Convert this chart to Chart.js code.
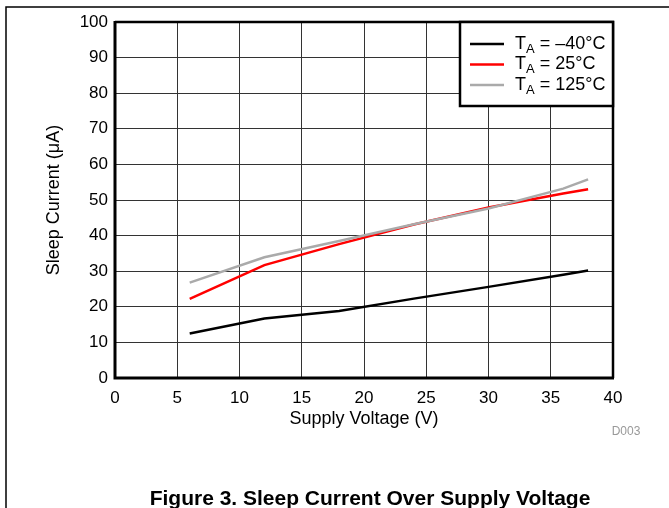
<!DOCTYPE html>
<html>
<head>
<meta charset="utf-8">
<script src="https://cdn.jsdelivr.net/npm/chart.js@4.4.1/dist/chart.umd.min.js"></script>
<style>
  body { margin: 0; background: #fff; }
  #wrap { position: relative; width: 669px; height: 508px; }
</style>
</head>
<body>
<div id="wrap"><canvas id="sleepChart"></canvas></div>
<script>
// values
const voltage = [6, 12, 18, 24, 30, 36, 38];
const currentM40 = [12.5, 16.7, 18.8, 22.3, 25.6, 29.0, 30.2];
const current25 = [22.2, 31.7, 37.6, 43.1, 47.9, 51.8, 53.0];
const current125 = [26.8, 33.9, 38.5, 43.2, 47.6, 53.2, 55.8];

const legendTemps = ['\u201340\u00B0C', '25\u00B0C', '125\u00B0C'];
const lineColors = ['#000000', '#ff0000', '#aaaaaa'];

const FONT = '"Liberation Sans", Arial, sans-serif';

function points(ys) {
    return voltage.map((v, i) => ({ x: v, y: ys[i] }));
}

// frame, plot border, legend and caption
const decorations = {
    id: 'decorations',
    beforeDraw(chart) {
        const ctx = chart.ctx;
        ctx.save();
        ctx.fillStyle = '#fff';
        ctx.fillRect(0, 0, chart.width, chart.height);
        ctx.strokeStyle = '#000';
        ctx.lineWidth = 1.5;
        ctx.beginPath();
        ctx.moveTo(6, 508);
        ctx.lineTo(6, 7);
        ctx.lineTo(669, 7);
        ctx.stroke();
        ctx.restore();
    },
    afterDraw(chart) {
        const ctx = chart.ctx;
        const a = chart.chartArea;
        ctx.save();
        ctx.strokeStyle = '#000';
        ctx.lineWidth = 2.5;
        ctx.beginPath();
        ctx.moveTo(a.left, a.top);
        ctx.lineTo(a.right, a.top);
        ctx.lineTo(a.right, a.bottom);
        ctx.stroke();
        ctx.lineWidth = 3;
        ctx.beginPath();
        ctx.moveTo(a.left, a.top - 1);
        ctx.lineTo(a.left, a.bottom);
        ctx.lineTo(a.right + 1, a.bottom);
        ctx.stroke();

        // legend
        const lx = 460, ly = a.top, lw = a.right - 460, lh = 84;
        ctx.fillStyle = '#fff';
        ctx.fillRect(lx, ly, lw, lh);
        ctx.lineWidth = 2.5;
        ctx.strokeRect(lx, ly, lw, lh);
        legendTemps.forEach((t, i) => {
            const y = ly + 22 + i * 20.5;
            ctx.strokeStyle = lineColors[i];
            ctx.lineWidth = 2.5;
            ctx.beginPath();
            ctx.moveTo(470, y);
            ctx.lineTo(504, y);
            ctx.stroke();
            ctx.fillStyle = '#000';
            ctx.textBaseline = 'middle';
            ctx.textAlign = 'left';
            ctx.font = '18px ' + FONT;
            let x = 515;
            ctx.fillText('T', x, y);
            x += ctx.measureText('T').width;
            ctx.font = '13px ' + FONT;
            ctx.fillText('A', x, y + 5);
            x += ctx.measureText('A').width;
            ctx.font = '18px ' + FONT;
            ctx.fillText(' = ' + t, x, y);
        });

        ctx.textBaseline = 'alphabetic';
        ctx.fillStyle = '#999';
        ctx.font = '12px ' + FONT;
        ctx.textAlign = 'center';
        ctx.fillText('D003', 626, 435);

        ctx.fillStyle = '#000';
        ctx.font = 'bold 21px ' + FONT;
        ctx.fillText('Figure 3. Sleep Current Over Supply Voltage', 370, 505);
        ctx.restore();
    }
};

new Chart(document.getElementById('sleepChart'), {
    type: 'line',
    data: {
        datasets: [
            { label: 'TA = \u201340\u00B0C', data: points(currentM40), borderColor: lineColors[0], order: 2 },
            { label: 'TA = 25\u00B0C', data: points(current25), borderColor: lineColors[1], order: 1 },
            { label: 'TA = 125\u00B0C', data: points(current125), borderColor: lineColors[2], order: 0 }
        ]
    },
    options: {
        responsive: true,
        maintainAspectRatio: false,
        animation: false,
        devicePixelRatio: 1,
        layout: { padding: { left: 0, top: 22, right: 56, bottom: 0 } },
        elements: {
            line: { borderWidth: 2.5, tension: 0, fill: false },
            point: { radius: 0 }
        },
        plugins: {
            legend: { display: false },
            tooltip: { enabled: false }
        },
        scales: {
            x: {
                type: 'linear',
                min: 0,
                max: 40,
                ticks: { stepSize: 5, color: '#000', padding: 10, font: { size: 17, family: FONT } },
                grid: { color: '#333', lineWidth: 1, drawTicks: false },
                border: { display: false },
                title: {
                    display: true,
                    text: 'Supply Voltage (V)',
                    color: '#000',
                    font: { size: 18, family: FONT },
                    padding: { top: 0, bottom: 78 }
                },
                afterFit(scale) { scale.height = 130; }
            },
            y: {
                min: 0,
                max: 100,
                ticks: { stepSize: 10, color: '#000', padding: 7, font: { size: 17, family: FONT } },
                grid: { color: '#333', lineWidth: 1, drawTicks: false },
                border: { display: false },
                title: {
                    display: true,
                    text: 'Sleep Current (\u03BCA)',
                    color: '#000',
                    font: { size: 18, family: FONT },
                    padding: { top: 43, bottom: 0 }
                },
                afterFit(scale) { scale.width = 115; }
            }
        }
    },
    plugins: [decorations]
});
</script>
</body>
</html>
